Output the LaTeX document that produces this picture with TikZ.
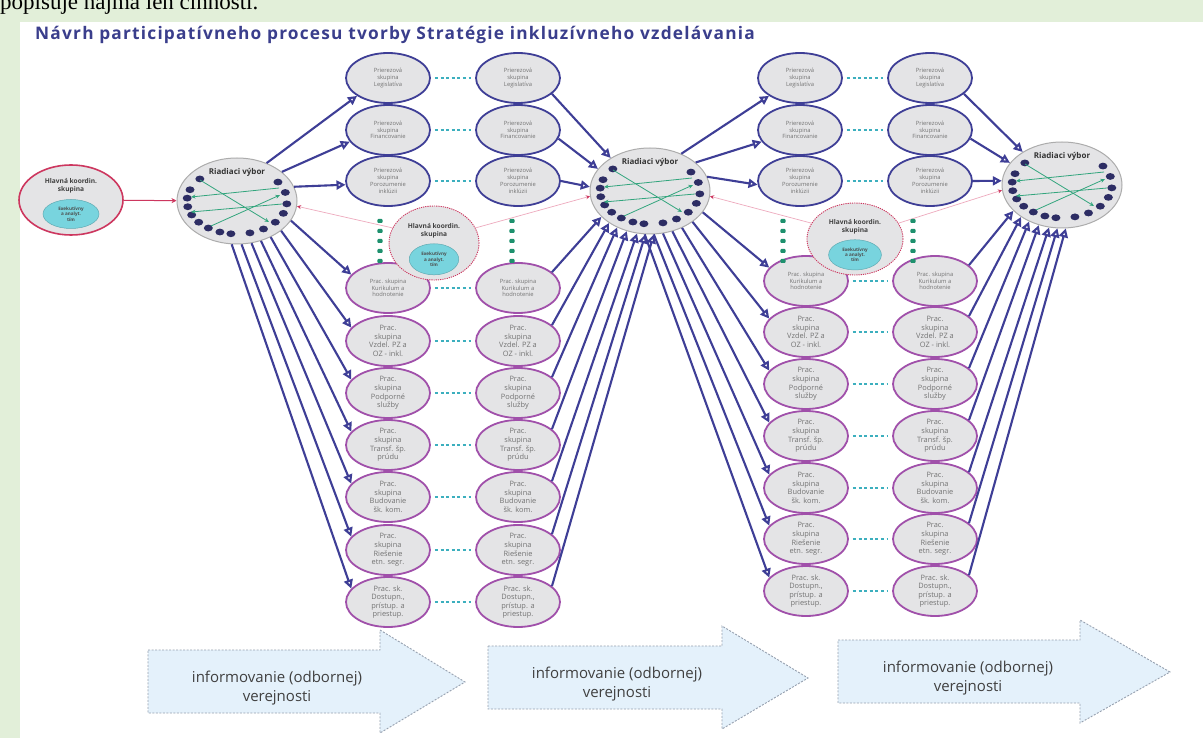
\documentclass[tikz,border=0pt]{standalone}
\usepackage{fontspec}
\setmainfont{Open Sans}
\newfontfamily\serifa{Liberation Serif}
\newfontfamily\ttlfont[LetterSpace=7]{Open Sans}
\usetikzlibrary{arrows.meta,calc,shapes.geometric}
\definecolor{framec}{RGB}{226,239,217}
\definecolor{ttlc}{RGB}{58,62,140}
\definecolor{navyc}{RGB}{62,62,150}
\definecolor{dotc}{RGB}{45,45,100}
\definecolor{purpc}{RGB}{160,80,170}
\definecolor{pinkc}{RGB}{205,55,95}
\definecolor{pinkl}{RGB}{238,170,190}
\definecolor{cyanf}{RGB}{120,212,222}
\definecolor{gfill}{RGB}{228,228,230}
\definecolor{tealc}{RGB}{60,175,190}
\definecolor{grnc}{RGB}{50,165,125}
\definecolor{dotg}{RGB}{30,145,110}
\definecolor{txtg}{RGB}{115,115,115}
\definecolor{arrf}{RGB}{228,241,251}
\definecolor{arrd}{RGB}{150,160,175}
\tikzset{
 pcirc/.style={ellipse, draw=navyc, line width=1.8, fill=gfill, minimum width=84, minimum height=50, inner sep=0, align=center, text=txtg, font=\fontsize{5.8}{6.8}\selectfont},
 wcirc/.style={pcirc, draw=purpc},
 ptxt/.style={font=\fontsize{7.4}{8.6}\selectfont},
 stxt/.style={font=\fontsize{5.8}{6.8}\selectfont},
 rv/.style={ellipse, draw=gray!65, line width=1, fill=gfill, minimum width=120, minimum height=86, inner sep=0},
 rvt/.style={inner sep=0, font=\bfseries\fontsize{8}{9}\selectfont, text=black!80},
 garr/.style={draw=grnc, line width=0.8, -{Stealth[length=4.5,width=4]}},
 barr/.style={draw=navyc, line width=2.1, -{Triangle[length=9,width=9,fill=white]}},
 hkln/.style={draw=pinkl, line width=0.7, -{Stealth[length=4,width=4,color=pinkc]}},
 tdash/.style={draw=tealc, line width=1.6, dash pattern=on 3pt off 2.6pt, shorten <=4, shorten >=4},
 hk/.style={ellipse, fill=gfill, inner sep=0},
 hkt/.style={inner sep=0, align=center, font=\bfseries\fontsize{6.6}{7.6}\selectfont, text=black!75},
 cy/.style={ellipse, fill=cyanf, draw=cyanf!80!black, line width=0.5, inner sep=0, align=center, font=\bfseries\fontsize{4.6}{5.4}\selectfont, text=black!70},
 arrbox/.style={draw=arrd, fill=arrf, line width=0.9, dash pattern=on 2pt off 1.5pt},
 arrt/.style={inner sep=0, align=center, font=\fontsize{15}{19}\selectfont, text=black!75}
}
\newcommand\rvmake[3]{%
 \node[rv] (#1) at (#2,#3) {};
 \node[rvt] (#1t) at ($(#1)+(0,-29)$) {Riadiaci výbor};
 \foreach \a in {222,200,185,170,155,140,125,110,97,75,58,40,22,5,345,325}
  \fill[dotc] ($(#1)+(\a:50 and 33)$) ellipse (4.5 and 3.4);
 \draw[garr] ($(#1)+(-37,-21)$) -- ($(#1)+(32,21)$);
 \draw[garr] ($(#1)+(42,-13)$) -- ($(#1)+(-46,-4)$);
 \draw[garr] ($(#1)+(45,3)$) -- ($(#1)+(-46,11)$);
 \draw[garr] ($(#1)+(-26,25)$) -- ($(#1)+(43,-6)$);
}
\newcommand\hkmake[5]{% name, x, y, w, h
 \node[hk, minimum width=#4, minimum height=#5] (#1) at (#2,#3) {};
 \node[hkt] (#1t) at ($(#1)+(0,-12)$) {Hlavná koordin.\\skupina};
 \node[cy, minimum width=0.55*#4, minimum height=0.42*#5] (#1i) at ($(#1)+(0,0.22*#5)$) {Exekutívny\\a analyt.\\tím};
}
\begin{document}
\begin{tikzpicture}[x=1pt,y=-1pt]
\useasboundingbox (0,0) rectangle (1203,738);
\fill[white] (0,0) rectangle (1203,738);
\fill[framec] (0,0) rectangle (1203,22);
\fill[framec] (0,0) rectangle (20,738);
\begin{scope}
\clip (0,0) rectangle (1203,22);
\node[anchor=base west, inner sep=0, font=\serifa\fontsize{23}{23}\selectfont] (toptext) at (0,10) {popisuje najmä len činnosti.};
\end{scope}
\node[anchor=west, inner sep=0, text=ttlc, font=\ttlfont\bfseries\fontsize{17.3}{19}\selectfont] (title) at (35,35) {Návrh participatívneho procesu tvorby Stratégie inkluzívneho vzdelávania};

% top cross-sectional groups
\foreach \i/\y/\t in {1/78/{Prierezová\\skupina\\Legislatíva},2/130/{Prierezová\\skupina\\Financovanie},3/181/{Prierezová\\skupina\\Porozumenie\\inklúzii}}{
 \node[pcirc] (a\i) at (388,\y) {\t};
 \node[pcirc] (b\i) at (518,\y) {\t};
 \node[pcirc] (c\i) at (800,\y) {\t};
 \node[pcirc] (d\i) at (930,\y) {\t};
 \draw[tdash] (a\i) -- (b\i);
 \draw[tdash] (c\i) -- (d\i);
}
% working groups
\foreach \i/\y/\yy/\s/\t in {4/288/281/stxt/{Prac. skupina\\Kurikulum a\\hodnotenie},5/341/332/ptxt/{Prac.\\skupina\\Vzdel. PZ a\\OZ - inkl.},6/393/384/ptxt/{Prac.\\skupina\\Podporné\\služby},7/445/436/ptxt/{Prac.\\skupina\\Transf. šp.\\prúdu},8/497/488/ptxt/{Prac.\\skupina\\Budovanie\\šk. kom.},9/550/539/ptxt/{Prac.\\skupina\\Riešenie\\etn. segr.},10/602/591/ptxt/{Prac. sk.\\Dostupn.,\\prístup. a\\priestup.}}{
 \node[wcirc,\s] (a\i) at (388,\y) {\t};
 \node[wcirc,\s] (b\i) at (518,\y) {\t};
 \node[wcirc,\s] (c\i) at (806,\yy) {\t};
 \node[wcirc,\s] (d\i) at (935,\yy) {\t};
 \draw[tdash] (a\i) -- (b\i);
 \draw[tdash] (c\i) -- (d\i);
}

% steering committees
\rvmake{rv1}{237}{201}
\rvmake{rv2}{650}{191}
\rvmake{rv3}{1062}{185}

% coordination groups
\node[hk, draw=pinkc, line width=1.6, minimum width=104, minimum height=70] (hk1) at (71,200) {};
\node[hkt] (hk1t) at (71,186) {Hlavná koordin.\\skupina};
\node[cy, minimum width=56, minimum height=29] (hk1i) at (71,214) {Exekutívny\\a analyt.\\tím};
\hkmake{hk2}{434}{243}{90}{74}
\hkmake{hk3}{855}{239}{96}{72}
\draw[draw=pinkc, line width=0.9, dash pattern=on 1.2pt off 1pt] (hk2.center) ellipse (45 and 37);
\draw[draw=pinkc, line width=0.9, dash pattern=on 1.2pt off 1pt] (hk3.center) ellipse (48 and 36);

\draw[draw=pinkc, line width=1, -{Stealth[length=5,width=5]}] (hk1) -- (rv1);
\draw[hkln] (hk2.160) -- (rv1.-5);
\draw[hkln] (hk2.20) -- (rv2.185);
\draw[hkln] (hk3.160) -- (rv2.-5);
\draw[hkln] (hk3.20) -- (rv3.185);

% green dotted columns
\foreach \x in {380,512,783,913}
 \foreach \k in {0,...,4}
  \fill[dotg, rounded corners=1] (\x-2.6,221+10*\k-2) rectangle (\x+2.6,221+10*\k+2);

% blue arrows: rv1 -> column a
\draw[barr] (rv1.52) -- (a1.210);
\draw[barr] (rv1.33) -- (a2.197);
\draw[barr] (rv1.14) -- (a3.185);
\foreach \i/\a in {4/-20,5/-34,6/-47,7/-59,8/-71,9/-84,10/-97}
 \draw[barr] (rv1.\a) -- (a\i.160);
% column b -> rv2
\draw[barr] (b1.-25) -- (rv2.140);
\draw[barr] (b2.-12) -- (rv2.157);
\draw[barr] (b3.0) -- (rv2.176);
\foreach \i/\a in {4/-152,5/-142,6/-132,7/-120,8/-107,9/-96,10/-85}
 \draw[barr] (b\i.25) -- (rv2.\a);
% rv2 -> column c
\draw[barr] (rv2.50) -- (c1.210);
\draw[barr] (rv2.32) -- (c2.197);
\draw[barr] (rv2.14) -- (c3.185);
\foreach \i/\a in {4/-22,5/-36,6/-49,7/-61,8/-73,9/-85,10/-97}
 \draw[barr] (rv2.\a) -- (c\i.160);
% column d -> rv3
\draw[barr] (d1.-25) -- (rv3.140);
\draw[barr] (d2.-12) -- (rv3.157);
\draw[barr] (d3.0) -- (rv3.176);
\foreach \i/\a in {4/-152,5/-142,6/-132,7/-120,8/-107,9/-96,10/-85}
 \draw[barr] (d\i.25) -- (rv3.\a);

% bottom arrows
\draw[arrbox] (148,650) -- (380,650) -- (380,630) -- (465,682) -- (380,733) -- (380,713) -- (148,713) -- cycle;
\node[arrt] (inf1) at (277,688) {informovanie (odbornej)\\verejnosti};
\draw[arrbox] (488,646) -- (722,646) -- (722,626) -- (808,678) -- (722,729) -- (722,709) -- (488,709) -- cycle;
\node[arrt] (inf2) at (617,684) {informovanie (odbornej)\\verejnosti};
\draw[arrbox] (838,640) -- (1080,640) -- (1080,620) -- (1170,672) -- (1080,723) -- (1080,703) -- (838,703) -- cycle;
\node[arrt] (inf3) at (968,678) {informovanie (odbornej)\\verejnosti};
\end{tikzpicture}
\end{document}
